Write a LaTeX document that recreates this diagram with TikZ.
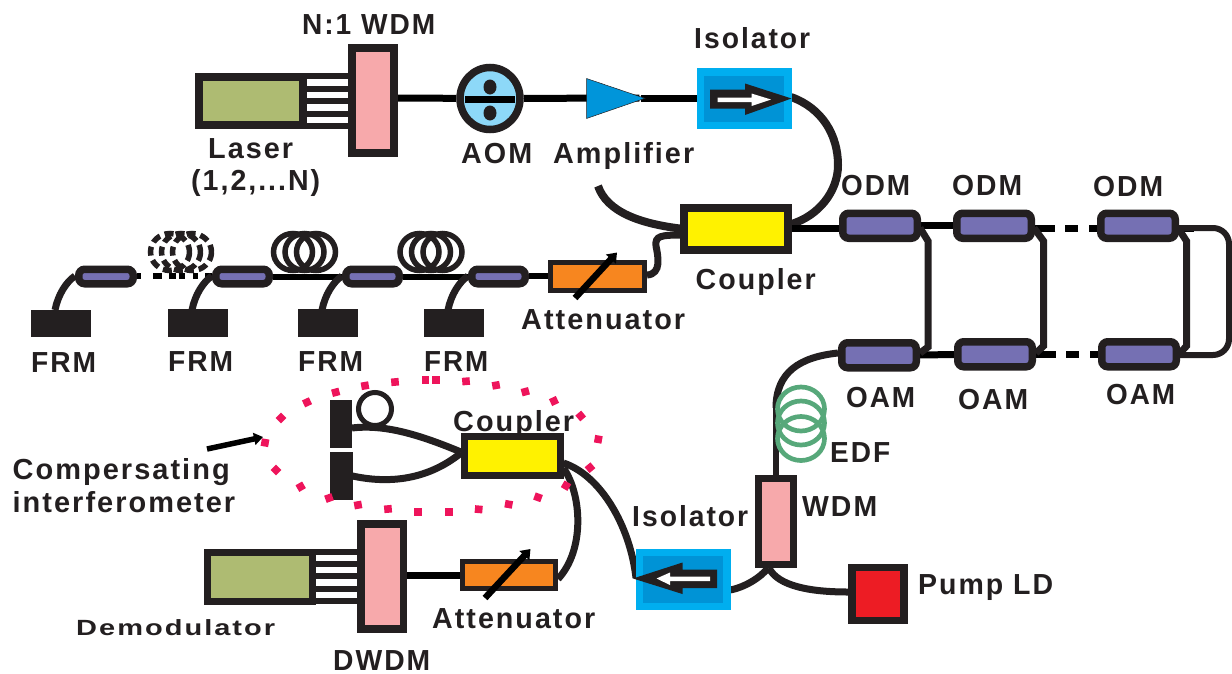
\documentclass[tikz,border=0pt]{standalone}
\usepackage{fontspec}
\usepackage{graphicx}
\setmainfont{Liberation Sans}
\newfontfamily\lblfont[LetterSpace=7]{Liberation Sans}
\usetikzlibrary{arrows.meta,backgrounds,shapes.geometric}
\definecolor{ink}{HTML}{231F20}
\definecolor{lasergreen}{HTML}{AEBB72}
\definecolor{wdmpink}{HTML}{F7A9AB}
\definecolor{aomblue}{HTML}{8DD8F8}
\definecolor{ampblue}{HTML}{0095DA}
\definecolor{isoout}{HTML}{00AEEF}
\definecolor{isoin}{HTML}{0093D6}
\definecolor{cplyellow}{HTML}{FFF200}
\definecolor{attorange}{HTML}{F7861F}
\definecolor{smpurple}{HTML}{7570B3}
\definecolor{edfgreen}{HTML}{57A87A}
\definecolor{pumpred}{HTML}{ED1C24}
\definecolor{dotred}{HTML}{EE145B}
\tikzset{
  box/.style={draw=ink,inner sep=0pt,rectangle},
  solidblock/.style={fill=ink,draw=none,inner sep=0pt,rectangle},
  smallcpl/.style={box,fill=smpurple,rounded corners=6pt},
  fibre/.style={draw=black,line width=7pt},
  ribbon/.style={draw=ink,line width=6pt},
  curvefibre/.style={draw=ink,line width=7pt},
  coil/.style={draw=ink,line width=5.5pt},
  lbl/.style={anchor=base west,inner sep=0pt,text=ink,font=\fontsize{29}{31}\lblfont\bfseries},
}
\newcommand\bx[7][]{%
  \pgfmathsetmacro\bw{#5-#3-#7}\pgfmathsetmacro\bh{#6-#4-#7}%
  \pgfmathsetmacro\bcx{(#3+#5)/2}\pgfmathsetmacro\bcy{(#4+#6)/2}%
  \node[#1,line width=#7pt,minimum width=\bw pt,minimum height=\bh pt] (#2) at (\bcx,\bcy) {};}
\newcommand\tx[5]{\node[lbl] (#1) at (#2,#3) {\resizebox{#4pt}{\height}{#5}};}
\begin{document}
\begin{tikzpicture}[x=1pt,y=-1pt]
\useasboundingbox (0,0) rectangle (1232,673);
% --- top row
\bx[box,fill=lasergreen]{laser}{195}{73}{307}{129}{8}
\bx[box,fill=wdmpink]{nwdm}{348}{44}{398}{157}{8}
\node[draw=ink,fill=aomblue,ellipse,line width=7.5pt,inner sep=0pt,minimum width=60pt,minimum height=62pt] (aom) at (490,98.5) {};
\node[draw=none,inner sep=0pt,minimum width=1pt,minimum height=1pt] (amp) at (640,98) {};
\bx[solidblock,fill=isoout]{isoA}{697}{68}{791.5}{129}{0}
\bx[box,fill=cplyellow]{cplA}{680}{204}{791.5}{253.5}{7.5}
\bx[box,fill=attorange]{attA}{548}{259.5}{647}{292.5}{5}
% small couplers
\bx[smallcpl]{sa}{75}{265.5}{137}{287.5}{7.5}
\bx[smallcpl]{sb}{212}{265.5}{273}{287.5}{7.5}
\bx[smallcpl]{sc}{342}{265.5}{403}{287.5}{7.5}
\bx[smallcpl]{sd}{468}{265.5}{529}{287.5}{7.5}
\bx[solidblock]{fa}{31}{310}{91}{337}{0}
\bx[solidblock]{fb}{168}{309}{228}{337}{0}
\bx[solidblock]{fc}{298}{309}{358}{337}{0}
\bx[solidblock]{fd}{424}{309}{484}{337}{0}
% right loop couplers
\bx[smallcpl]{oda}{839}{209.5}{921}{242}{7.5}
\bx[smallcpl]{odb}{953}{209.5}{1035}{242}{7.5}
\bx[smallcpl]{odc}{1097}{209.5}{1179}{242}{7.5}
\bx[smallcpl]{oaa}{838}{339}{920}{371.5}{7.5}
\bx[smallcpl]{oab}{954}{338}{1036}{370.5}{7.5}
\bx[smallcpl]{oac}{1098}{338}{1180}{370.5}{7.5}
% lower part
\bx[box,fill=wdmpink]{wdmB}{755}{475}{797}{568}{7}
\bx[box,fill=pumpred]{pump}{848}{563.5}{907.5}{624}{7.5}
\bx[solidblock,fill=isoout]{isoB}{636}{548.5}{730.5}{610}{0}
\bx[box,fill=cplyellow]{cplB}{461}{432.5}{563.5}{478.5}{7}
\bx[solidblock]{mirA}{329.5}{399.5}{352}{447.5}{0}
\bx[solidblock]{mirB}{330}{452}{352.5}{499.5}{0}
\bx[box,fill=attorange]{attB}{459.5}{559}{558}{591}{5}
\bx[box,fill=lasergreen]{demod}{203.5}{548.5}{316}{605}{7.5}
\bx[box,fill=wdmpink]{dwdm}{357}{520}{407}{632.5}{7.5}
% named free ends
\coordinate (tail) at (598,186);
\coordinate (fat) at (55,310);
\coordinate (fbt) at (192,310);
\coordinate (fct) at (322,310);
\coordinate (fdt) at (448,310);
\begin{scope}[on background layer]
  % laser ribbons
  \foreach \y in {76,89,101,114,126}{\draw[ribbon] (306,\y) -- (349,\y);}
  \foreach \y in {552,564,576,589,601}{\draw[ribbon] (315,\y) -- (358,\y);}
  \draw[fibre] (nwdm.east |- 0,98) -- (aom);
  \draw[fibre] (aom) -- (amp);
  \draw[fibre] (amp) -- (isoA.west |- 0,98);
  \draw[curvefibre,line width=8pt] (791,97) .. controls (822,108) and (838,135) .. (838,165) .. controls (838,192) and (818,216) .. (cplA.east |- 0,224);
  \draw[curvefibre,line width=8pt] (tail) .. controls (607,212) and (640,224) .. (684,229);
  \draw[fibre] (cplA.east |- 0,228) -- (oda.west |- 0,228);
  \draw[curvefibre,line width=7pt] (683,235) .. controls (660,235) and (655,236) .. (656,246) .. controls (658,256) and (662,274) .. (attA.east |- 0,275);
  % delay line
  \draw[fibre,line width=6pt] (attA.west |- 0,276) -- (sd.east |- 0,276);
  \draw[fibre,line width=6pt] (sd) -- (sc);
  \draw[fibre,line width=6pt] (sc) -- (sb);
  \draw[fibre,line width=6pt,dash pattern=on 4pt off 12pt on 9pt off 7pt on 7pt off 3pt on 6pt off 8pt on 5pt off 7pt on 20pt] (sa.east |- 0,276) -- (sb.west |- 0,276);
  \draw[curvefibre] (sa.west |- 0,276) .. controls (66,282) and (58,295) .. (fat);
  \draw[curvefibre] (sb.west |- 0,276) .. controls (203,282) and (195,295) .. (fbt);
  \draw[curvefibre] (sc.west |- 0,276) .. controls (333,282) and (325,295) .. (fct);
  \draw[curvefibre] (sd.west |- 0,276) .. controls (459,282) and (451,295) .. (fdt);
  % ODM / OAM
  \draw[fibre] (oda) -- (odb);
  \draw[fibre] (oaa) -- (oab);
  \draw[fibre,dash pattern=on 20pt off 10pt on 13pt off 11pt on 20pt] (odb.east |- 0,228) -- (odc.west |- 0,228);
  \draw[fibre,dash pattern=on 20pt off 10pt on 13pt off 11pt on 20pt] (oab.east |- 0,354) -- (oac.west |- 0,354);
  \draw[fibre] (odc.east |- 0,228) -- ++(15,0);
  \draw[curvefibre] (920,228) -- (928,241) -- (928,347) -- (oaa.east |- 0,353);
  \draw[curvefibre] (1034,228) -- (1043.5,241) -- (1043.5,346) -- (oab.east |- 0,353);
  \draw[curvefibre] (1178,228) -- (1186.5,241) -- (1186.5,346) -- (oac.east |- 0,353);
  \draw[curvefibre,line width=6pt,rounded corners=16pt] (odc.east |- 0,228) -- (1229,228) -- (1229,355) -- (oac.east |- 0,355);
  % amp stage
  \draw[curvefibre] (oaa.west |- 0,353) .. controls (800,357) and (776,372) .. (776,408);
  \draw[curvefibre,line width=6pt] (776,405) -- (wdmB.north -| 776,0);
  \draw[curvefibre] (768,568) .. controls (760,578) and (745,587) .. (isoB.east |- 0,590);
  \draw[curvefibre] (769,568) .. controls (778,586) and (810,592) .. (pump.west |- 0,592);
  % lower coupler
  \draw[curvefibre] (cplB.west |- 0,452) .. controls (420,435) and (385,424) .. (mirA.east |- 0,428);
  \draw[curvefibre] (cplB.west |- 0,453) .. controls (425,482) and (385,483) .. (mirB.east |- 0,476);
  \draw[curvefibre] (cplB.east |- 0,463) .. controls (600,475) and (630,525) .. (636,578);
  \draw[curvefibre] (cplB.east |- 0,468) .. controls (582,495) and (585,550) .. (attB.east |- 0,579);
  \draw[fibre] (dwdm.east |- 0,575) -- (attB.west |- 0,575);
\end{scope}
% amplifier
\fill[ampblue,draw=ink,line width=.5pt] (586.5,78.5) -- (645,98.3) -- (586.5,118.5) -- cycle;
% AOM interior
\fill[black] (465,95.5) rectangle (515,103);
\fill[ink] (490,87) ellipse (6.5 and 7.5);
\fill[ink] (490,113) ellipse (6.5 and 7.5);
% isolators
\fill[isoin] (704,75.5) rectangle (784,122);
\fill[ink] (710,89.5) -- (745,89.5) -- (745,83.5) -- (791.5,98.5) -- (745,115) -- (745,108.5) -- (710,108.5) -- cycle;
\fill[white] (717.5,97.5) -- (751.5,97.5) -- (751.5,93.5) -- (771,99.5) -- (751.5,106) -- (751.5,102) -- (717.5,102) -- cycle;
\fill[isoin] (643,556) rectangle (723,603);
\fill[ink] (633,578.5) -- (682.5,562.5) -- (682.5,569.5) -- (717,569.5) -- (717,588) -- (682.5,588) -- (682.5,594) -- cycle;
\fill[white] (656.5,578.5) -- (670,572.5) -- (670,576.5) -- (710,576.5) -- (710,581) -- (670,581) -- (670,585) -- cycle;
% attenuator arrows
\draw[black,line width=6.5pt,-{Triangle[length=9pt,width=13pt]}] (575,298) -- (617,252.5);
\draw[black,line width=6.5pt,-{Triangle[length=9pt,width=13pt]}] (485,598) -- (530.5,549);
% coils
\foreach \c in {170,181,192}{\draw[coil,dash pattern=on 9pt off 5pt] (\c,252) ellipse (19.5 and 18.5);}
\foreach \c in {293,304.5,316}{\draw[coil] (\c,252) ellipse (19.5 and 18.5);}
\foreach \c in {419.5,431,442.5}{\draw[coil] (\c,252) ellipse (19.5 and 18.5);}
\foreach \c in {409,423,438.5}{\draw[edfgreen,line width=4.7pt] (801,\c) ellipse (23.5 and 22);}
% ring
\draw[ink,line width=5pt] (375,409) circle (16.5);
% dotted enclosure
\foreach \x/\y/\r in {265/442.7/80,281/418/45,307/402.3/25,335.7/392.3/15,365/385.7/10,395/382/5,425.3/380/0,436/380/0,466/381.3/5,496/385.3/10,525.3/391.7/15,554/401/25,580.7/416/40,598.3/439.3/80,590/467.7/-50,566/485.7/-30,538/497.3/-20,508.7/504.3/-10,478.7/509.3/-5,449/512/0,418/512/0,388/509/5,358/505/10,329/498/20,300.7/486.7/30,276/470/45}{
  \fill[dotred,rotate around={\r:(\x,\y)}] (\x-3.8,\y-3.8) rectangle (\x+3.8,\y+3.8);}
\coordinate (ptrS) at (207,449);
\coordinate (ptrE) at (263,437);
\draw[black,line width=5.5pt,-{Triangle[length=9pt,width=12pt]}] (ptrS) -- (ptrE);
% labels
\tx{lA}{302}{34}{133}{N:1 WDM}
\tx{lB}{694}{48}{116}{Isolator}
\tx{lC}{208}{158}{85}{Laser}
\tx{lD}{191}{190}{129}{(1,2,...N)}
\tx{lE}{461}{163}{71}{AOM}
\tx{lF}{553}{163}{141}{Amplifier}
\tx{lG}{695.5}{289}{120}{Coupler}
\tx{lH}{521}{329}{164}{Attenuator}
\tx{lI}{31}{372}{65}{FRM}
\tx{lJ}{168}{371}{65}{FRM}
\tx{lK}{298}{371}{65}{FRM}
\tx{lL}{424}{371}{64}{FRM}
\tx{lM}{841}{195}{69}{ODM}
\tx{lN}{952}{195}{70}{ODM}
\tx{lO}{1093}{196}{70}{ODM}
\tx{lP}{846}{407}{69}{OAM}
\tx{lQ}{958}{409}{70}{OAM}
\tx{lR}{1106}{404}{69}{OAM}
\tx{lS}{830}{462}{60}{EDF}
\tx{lT}{802}{516}{75}{WDM}
\tx{lU}{632}{526}{116}{Isolator}
\tx{lV}{918}{594}{135}{Pump LD}
\tx{lW}{453}{431}{121}{Coupler}
\tx{lX}{12.5}{479.5}{217}{Compersating}
\tx{lY}{12.5}{512}{222.5}{interferometer}
\tx{lZ}{432}{628}{163}{Attenuator}
\tx{lAA}{333}{670}{97}{DWDM}
\node[lbl,font=\fontsize{22}{24}\lblfont\bfseries] (lAB) at (76,635) {\resizebox{199pt}{\height}{Demodulator}};
\end{tikzpicture}
\end{document}
